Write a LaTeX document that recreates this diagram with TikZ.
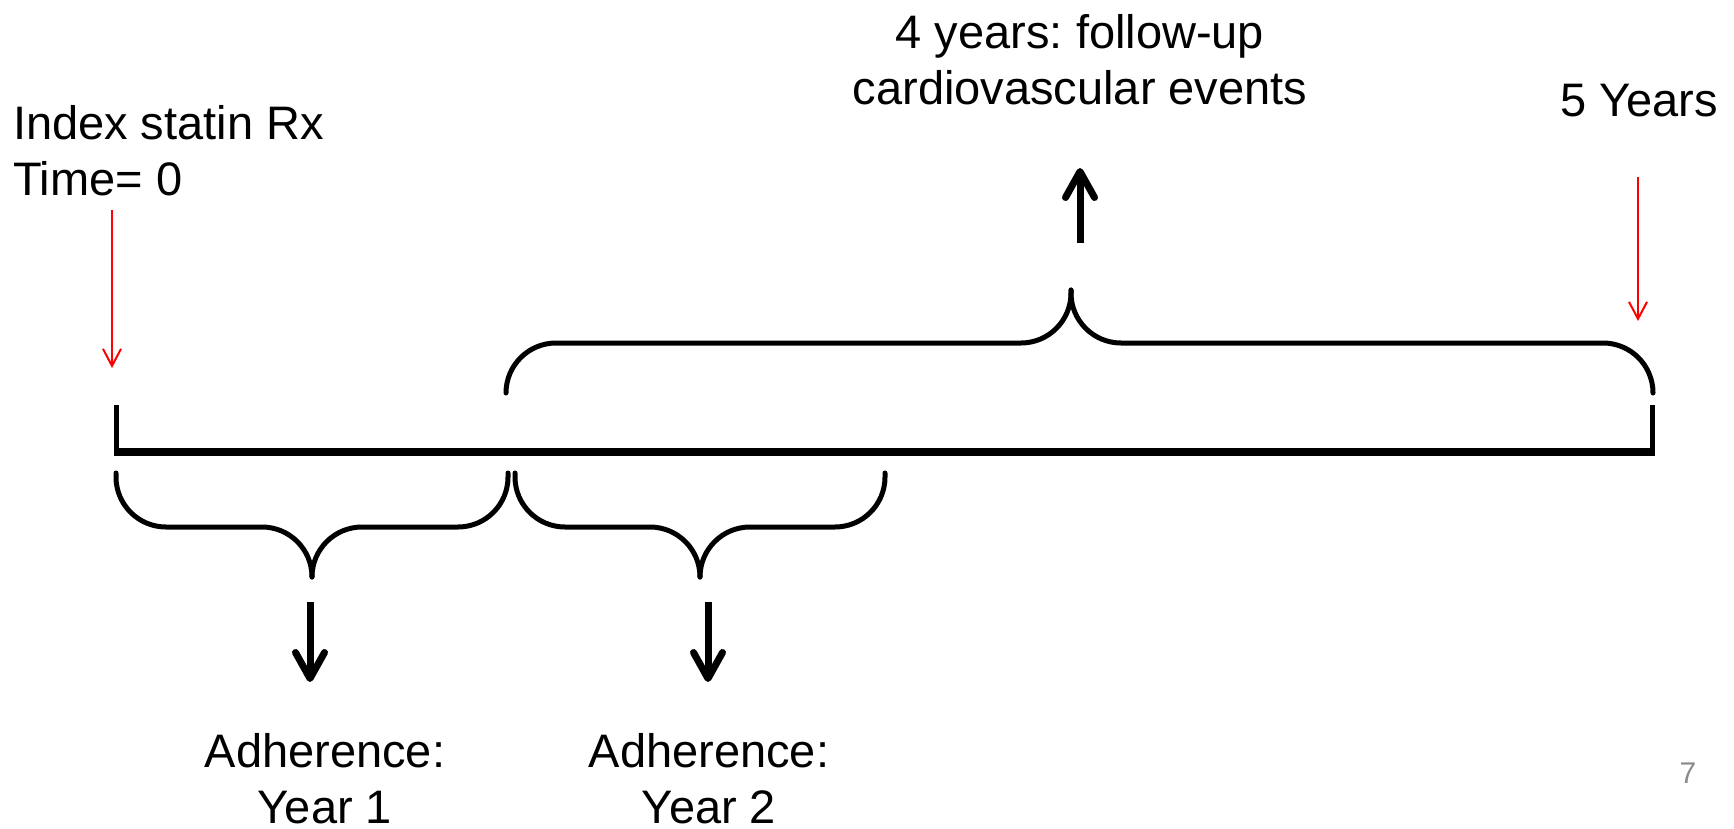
\documentclass[tikz,border=0pt]{standalone}
\usepackage{fontspec}
\setmainfont{Liberation Sans}
\usetikzlibrary{arrows.meta}
\definecolor{cuered}{HTML}{FF0000}
\definecolor{pagegrey}{HTML}{8C8C8C}
\frenchspacing
\newcommand{\fL}{\fontsize{23.5}{28}\selectfont}
\newcommand{\fP}{\fontsize{15}{18}\selectfont}
% #1 name of the tip, #2 left x, #3 tip x, #4 right x, #5 end y, #6 bar y, #7 tip y
\newcommand{\curly}[7]{%
  \coordinate (#1) at (#3,#7);
  \draw[brace] (#2,#5) -- (#2,#6) -- (#3,#6) -- (#1);
  \draw[brace] (#4,#5) -- (#4,#6) -- (#3,#6) -- (#1);}

\begin{document}
\begin{tikzpicture}[x=0.5pt,y=-0.5pt,
    lbl/.style={font=\fL,inner sep=0pt,outer sep=0pt},
    axis/.style={line width=3.75pt},
    tick/.style={line width=2.5pt},
    brace/.style={line width=2.5pt,rounded corners=25pt,line cap=round},
    cue/.style={cuered,line width=1pt,-{Straight Barb[length=8.5pt,width=9pt]}},
    blkarr/.style={line width=3.5pt,-{Straight Barb[length=13pt,width=14.5pt,round]}}]
  \path[use as bounding box] (0,0) rectangle (1734,829);

  % labels
  \node[lbl,anchor=north west,align=left] (idx) at (13,105) {Index statin Rx\\Time= 0};
  \node[lbl,anchor=north,align=center] (fol) at (1080,14) {4 years: follow-up\\cardiovascular events};
  \node[lbl,anchor=north] (five) at (1639,84) {5 Years};
  \node[lbl,anchor=north,align=center] (adh1) at (325,733) {Adherence:\\Year 1};
  \node[lbl,anchor=north,align=center] (adh2) at (709,733) {Adherence:\\Year 2};
  \node[lbl,anchor=north,font=\fP,text=pagegrey] (pg) at (1688,763) {7};

  % timeline, 0 to 5 years
  \coordinate (t0) at (116,452);
  \coordinate (t5) at (1652,452);
  \draw[axis] ([xshift=-1.25pt]t0) -- ([xshift=1.25pt]t5);
  \draw[tick] (t0) -- ++(0,-47);
  \draw[tick] (t5) -- ++(0,-47);

  % braces
  \curly{fuTip}{506}{1071}{1653}{393}{343}{290}
  \curly{y1Tip}{116}{312}{508}{473}{527}{577}
  \curly{y2Tip}{515}{700}{885}{473}{527}{577}

  % red markers for start and end
  \coordinate (rxA) at (112,210);
  \coordinate (rxB) at (112,368);
  \coordinate (fyA) at (1638,177);
  \coordinate (fyB) at (1638,321);
  \draw[cue] (rxA) -- (rxB);
  \draw[cue] (fyA) -- (fyB);

  % block arrows to the outcome labels
  \coordinate (upA) at (1080,243);
  \coordinate (upB) at (1080,168);
  \coordinate (dnA1) at (310,602);
  \coordinate (dnB1) at (310,682);
  \coordinate (dnA2) at (708,602);
  \coordinate (dnB2) at (708,682);
  \draw[blkarr] (upA) -- (upB);
  \draw[blkarr] (dnA1) -- (dnB1);
  \draw[blkarr] (dnA2) -- (dnB2);
\end{tikzpicture}
\end{document}
